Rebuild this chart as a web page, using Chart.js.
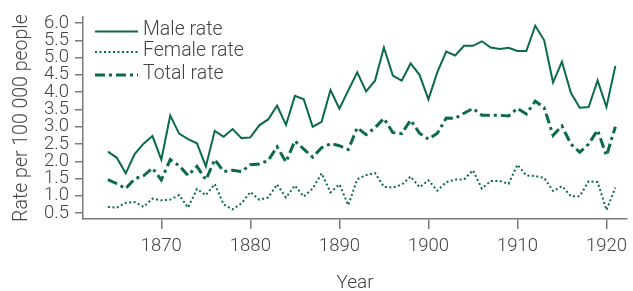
<!DOCTYPE html>
<html>
<head>
<meta charset="utf-8">
<script src="https://cdn.jsdelivr.net/npm/chart.js@4.4.0/dist/chart.umd.min.js"></script>
<style>
  html, body { margin: 0; padding: 0; background: #fff; }
  #wrap { width: 633px; height: 291px; }
</style>
</head>
<body>
<div id="wrap"><canvas id="rates"></canvas></div>
<script>
// data
var years = [];
for (var y = 1864; y <= 1921; y++) years.push(y);

var maleRate = [2.28, 2.10, 1.65, 2.21, 2.51, 2.73, 2.05, 3.32, 2.80, 2.64,
                2.52, 1.85, 2.88, 2.71, 2.93, 2.67, 2.69, 3.04, 3.21, 3.61,
                3.05, 3.89, 3.79, 3.00, 3.14, 4.06, 3.52, 4.05, 4.57, 4.02,
                4.33, 5.29, 4.48, 4.33, 4.83, 4.50, 3.79, 4.58, 5.17, 5.06,
                5.34, 5.34, 5.47, 5.29, 5.25, 5.28, 5.19, 5.19, 5.92, 5.50,
                4.28, 4.88, 3.98, 3.55, 3.57, 4.34, 3.57, 4.76];
var femaleRate = [0.68, 0.66, 0.80, 0.82, 0.68, 0.92, 0.87, 0.89, 1.02, 0.66,
                  1.20, 1.02, 1.34, 0.75, 0.61, 0.78, 1.11, 0.89, 0.95, 1.33,
                  0.95, 1.30, 0.98, 1.21, 1.65, 1.10, 1.33, 0.73, 1.48, 1.60,
                  1.66, 1.26, 1.24, 1.32, 1.56, 1.25, 1.45, 1.15, 1.40, 1.47,
                  1.47, 1.74, 1.21, 1.43, 1.43, 1.35, 1.90, 1.59, 1.57, 1.52,
                  1.14, 1.28, 0.99, 0.99, 1.42, 1.40, 0.59, 1.24];
var totalRate = [1.47, 1.35, 1.21, 1.49, 1.58, 1.80, 1.46, 2.05, 1.87, 1.59,
                 1.85, 1.46, 2.05, 1.70, 1.74, 1.70, 1.90, 1.92, 2.02, 2.42,
                 1.98, 2.59, 2.35, 2.12, 2.39, 2.51, 2.45, 2.34, 2.97, 2.77,
                 2.97, 3.24, 2.83, 2.80, 3.19, 2.81, 2.64, 2.81, 3.25, 3.24,
                 3.39, 3.53, 3.33, 3.33, 3.33, 3.31, 3.53, 3.37, 3.74, 3.55,
                 2.75, 3.02, 2.50, 2.26, 2.50, 2.90, 2.16, 3.00];

var yTicks = [0.5, 1.0, 1.5, 2.0, 2.5, 3.0, 3.5, 4.0, 4.5, 5.0, 5.5, 6.0];
var xTicks = [1870, 1880, 1890, 1900, 1910, 1920];
var seriesNames = ['Male rate', 'Female rate', 'Total rate'];

var green = '#0b6a4c';
var grey = '#444444';
var axisGrey = '#7a7a7a';
var fontFamily = 'Roboto, "Liberation Sans", sans-serif';

function pts(vals) {
  return vals.map(function (v, i) { return { x: years[i], y: v }; });
}

// legend drawn inside the plot, top left
var insideLegend = {
  id: 'insideLegend',
  afterDraw: function (chart) {
    var ctx = chart.ctx;
    var rows = [31.5, 52, 75];
    ctx.save();
    chart.data.datasets.forEach(function (ds, i) {
      ctx.beginPath();
      ctx.strokeStyle = ds.borderColor;
      ctx.lineWidth = ds.borderWidth;
      ctx.setLineDash(ds.borderDash || []);
      ctx.moveTo(95, rows[i]);
      ctx.lineTo(138, rows[i]);
      ctx.stroke();
      ctx.setLineDash([]);
      ctx.fillStyle = grey;
      ctx.font = '300 19.5px ' + fontFamily;
      ctx.textBaseline = 'middle';
      ctx.textAlign = 'left';
      ctx.fillText(ds.label, 143, rows[i] - 1);
    });
    ctx.restore();
  }
};

var ctx = document.getElementById('rates').getContext('2d');
var chart = new Chart(ctx, {
  type: 'line',
  data: {
    datasets: [{
      label: seriesNames[0],
      data: pts(maleRate),
      borderColor: green,
      borderWidth: 2,
      borderDash: []
    }, {
      label: seriesNames[1],
      data: pts(femaleRate),
      borderColor: green,
      borderWidth: 2,
      borderDash: [2, 2.5]
    }, {
      label: seriesNames[2],
      data: pts(totalRate),
      borderColor: green,
      borderWidth: 3,
      borderDash: [10, 4, 3, 4]
    }]
  },
  options: {
    responsive: true,
    maintainAspectRatio: false,
    animation: false,
    layout: { padding: { top: 15, right: 0, bottom: 0, left: 0 } },
    elements: {
      point: { radius: 0 },
      line: { tension: 0, fill: false }
    },
    plugins: {
      legend: { display: false },
      tooltip: { enabled: false }
    },
    scales: {
      x: {
        type: 'linear',
        min: 1861.2,
        max: 1922.3,
        afterBuildTicks: function (scale) {
          scale.ticks = xTicks.map(function (v) { return { value: v }; });
        },
        afterFit: function (scale) { scale.height = 72; },
        grid: { drawOnChartArea: false, tickLength: 10, color: axisGrey, lineWidth: 1.5 },
        border: { color: axisGrey, width: 1.5 },
        ticks: {
          autoSkip: false,
          maxRotation: 0,
          padding: 6,
          color: grey,
          font: { family: fontFamily, size: 18.5, weight: '300' },
          callback: function (v) { return String(v); }
        },
        title: {
          display: true,
          text: 'Year',
          color: grey,
          padding: { top: 0, bottom: -4 },
          font: { family: fontFamily, size: 19, weight: '300' }
        }
      },
      y: {
        min: 0.33,
        max: 6.17,
        afterBuildTicks: function (scale) {
          scale.ticks = yTicks.map(function (v) { return { value: v }; });
        },
        afterFit: function (scale) { scale.width = 83; },
        grid: { drawOnChartArea: false, tickLength: 8, color: axisGrey, lineWidth: 1.5 },
        border: { color: axisGrey, width: 1.5 },
        ticks: {
          autoSkip: false,
          padding: 6,
          color: grey,
          font: { family: fontFamily, size: 18.5, weight: '300' },
          callback: function (v) { return v.toFixed(1); }
        },
        title: {
          display: true,
          text: 'Rate per 100 000 people',
          color: grey,
          padding: { top: 10, bottom: 0 },
          font: { family: fontFamily, size: 19.5, weight: '300' }
        }
      }
    }
  },
  plugins: [insideLegend]
});
</script>
</body>
</html>
